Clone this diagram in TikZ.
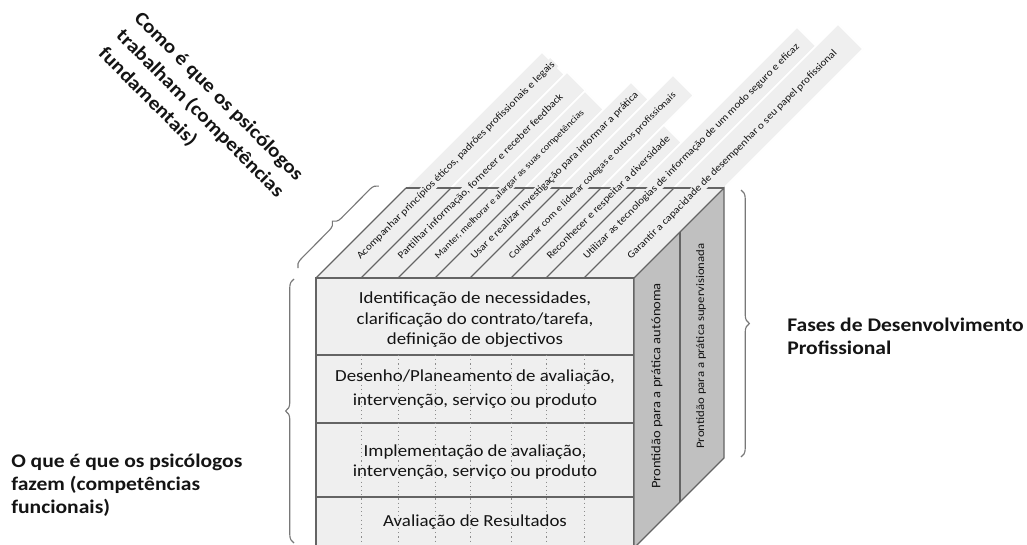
\documentclass[tikz,border=0pt]{standalone}
\usepackage{fontspec}
\setmainfont{Carlito}[FakeStretch = 1.12]
\usetikzlibrary{decorations.pathreplacing}

\definecolor{facegray}{RGB}{239,239,239}
\definecolor{sidegray}{RGB}{192,192,192}
\definecolor{linegray}{RGB}{100,100,100}
\definecolor{dotgray}{RGB}{140,140,140}
\definecolor{bracegray}{RGB}{120,120,120}
\definecolor{inkgray}{RGB}{20,20,20}

\begin{document}
\begin{tikzpicture}[x = 0.025cm, y = -0.025cm,
    face/.style = {fill = facegray, draw = linegray, line width = 0.8pt},
    side/.style = {fill = sidegray, draw = linegray, line width = 0.8pt},
    strip/.style = {fill = facegray, draw = white, line width = 1.2pt},
    brd/.style = {draw = linegray, line width = 0.8pt},
    colsep/.style = {draw = dotgray, line width = 0.6pt, dash pattern = on 0.8pt off 2.2pt},
    curly/.style = {draw = bracegray, line width = 0.8pt, decorate, decoration = {brace, amplitude = 6pt}},
    rowtxt/.style = {align = center, text = inkgray, font = \fontsize{12}{14.6}\selectfont},
    striptxt/.style = {rotate = 45, anchor = west, inner sep = 1pt, fill = facegray, text = inkgray, font = \fontsize{7.2}{8.2}\selectfont},
    sidetxt/.style = {rotate = 90, inner sep = 0pt, text = inkgray},
    lbl/.style = {align = left, inner sep = 0pt, text = inkgray, font = \fontsize{13.7}{16.4}\selectfont\bfseries},
    ]
    \useasboundingbox (0,0) rectangle (1027,545);

    % strips of the top face
    \path[strip] (316,278) -- (542,52) -- (564.5,74.5) -- (361,278) -- cycle;
    \path[strip] (361,278) -- (567,72) -- (585.5,90.5) -- (398,278) -- cycle;
    \path[strip] (398,278) -- (585,91) -- (603.5,109.5) -- (435,278) -- cycle;
    \path[strip] (435,278) -- (631,82) -- (648.5,99.5) -- (470,278) -- cycle;
    \path[strip] (470,278) -- (673,75) -- (693.5,95.5) -- (511,278) -- cycle;
    \path[strip] (511,278) -- (664,125) -- (681.5,142.5) -- (546,278) -- cycle;
    \path[strip] (546,278) -- (797,27) -- (816,46) -- (584,278) -- cycle;
    \path[strip] (584,278) -- (838,24) -- (863,49) -- (634,278) -- cycle;

    % cube
    \path[face] (316,278) rectangle (634,548);
    \path[side] (634,278) -- (724,188) -- (724,458) -- (634,548) -- cycle;
    \draw[brd] (680,232) -- (680,502);

    \draw[brd] (316,278) -- (406,188);
    \draw[brd] (361,278) -- (451,188);
    \draw[brd] (398,278) -- (488,188);
    \draw[brd] (435,278) -- (525,188);
    \draw[brd] (470,278) -- (560,188);
    \draw[brd] (511,278) -- (601,188);
    \draw[brd] (546,278) -- (636,188);
    \draw[brd] (584,278) -- (674,188);
    \draw[brd] (406,188) -- (724,188);

    \draw[brd] (316,355) -- (634,355);
    \draw[brd] (316,423) -- (634,423);
    \draw[brd] (316,497) -- (634,497);

    \draw[colsep] (361,355) -- (361,548);
    \draw[colsep] (398,355) -- (398,548);
    \draw[colsep] (435,355) -- (435,548);
    \draw[colsep] (470,355) -- (470,548);
    \draw[colsep] (511,355) -- (511,548);
    \draw[colsep] (546,355) -- (546,548);
    \draw[colsep] (584,355) -- (584,548);

    % texts on the strips
    \node[striptxt] (S1) at (357.5,259) {Acompanhar princípios éticos, padrões profissionais e legais};
    \node[striptxt] (S2) at (398.5,259) {Partilhar informação, fornecer e receber feedback};
    \node[striptxt, font = \fontsize{6.6}{7.6}\selectfont] (S3) at (435.5,259) {Manter, melhorar e alargar as suas competências};
    \node[striptxt] (S4) at (471.5,259) {Usar e realizar investigação para informar a prática};
    \node[striptxt, font = \fontsize{6.8}{7.8}\selectfont] (S5) at (509.5,259) {Colaborar com e liderar colegas e outros profissionais};
    \node[striptxt] (S6) at (547.5,259) {Reconhecer e respeitar a diversidade};
    \node[striptxt] (S7) at (584,259) {Utilizar as tecnologias de informação de um modo seguro e eficaz};
    \node[striptxt] (S8) at (628,259) {Garantir a capacidade de desempenhar o seu papel profissional};

    % rows of the front face
    \node[rowtxt] (R1) at (475,320) {Identificação de necessidades,\\clarificação do contrato/tarefa,\\definição de objectivos};
    \node[rowtxt] (R2) at (475,389) {Desenho/Planeamento de avaliação,\\[2pt]intervenção, serviço ou produto};
    \node[rowtxt] (R3) at (475,462) {Implementação de avaliação,\\intervenção, serviço ou produto};
    \node[rowtxt] (R4) at (475,522) {Avaliação de Resultados};

    % right face
    \node[sidetxt, font = \fontsize{9.25}{10}\selectfont] (P1) at (657,386) {Prontidão para a prática autónoma};
    \node[sidetxt, font = \fontsize{8.1}{9}\selectfont] (P2) at (701,346) {Prontidão para a prática supervisionada};

    % braces and labels
    \coordinate (b1) at (294,543);
    \coordinate (b2) at (294,279);
    \coordinate (b3) at (298,268);
    \coordinate (b4) at (379,186);
    \coordinate (b5) at (741,190);
    \coordinate (b6) at (741,457);
    \draw[curly] (b1) -- (b2);
    \draw[curly] (b3) -- (b4);
    \draw[curly] (b5) -- (b6);

    \node[lbl, anchor = west] (L1) at (11,485) {O que é que os psicólogos\\fazem (competências\\funcionais)};
    \node[lbl, anchor = west] (L2) at (787,336) {Fases de Desenvolvimento\\Profissional};
    \node[lbl, anchor = west, rotate = -45, font = \fontsize{13.7}{18}\selectfont\bfseries] (L3) at (119,33) {Como é que os psicólogos\\trabalham (competências\\fundamentais)};
\end{tikzpicture}
\end{document}
